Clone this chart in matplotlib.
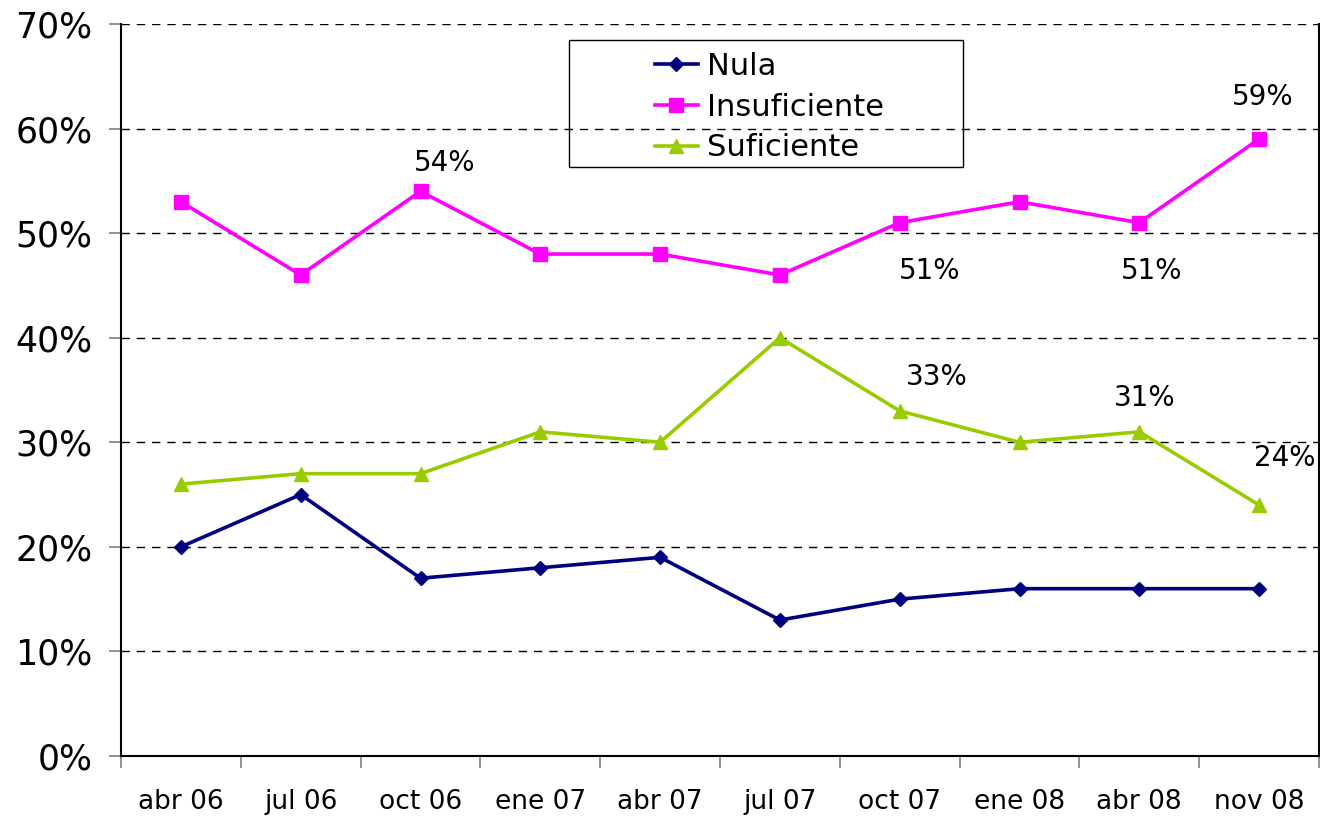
import matplotlib
matplotlib.use('Agg')
import matplotlib.pyplot as plt
from matplotlib.patches import Rectangle
from matplotlib.ticker import FixedLocator

periods = ["abr 06", "jul 06", "oct 06", "ene 07", "abr 07",
           "jul 07", "oct 07", "ene 08", "abr 08", "nov 08"]
nula = [20, 25, 17, 18, 19, 13, 15, 16, 16, 16]
insuficiente = [53, 46, 54, 48, 48, 46, 51, 53, 51, 59]
suficiente = [26, 27, 27, 31, 30, 40, 33, 30, 31, 24]

# which points get a data label: (index, offset in pixels)
labels_insuf = [(2, 24, 28), (6, 30, -48), (8, 12, -48), (9, 4, 42)]
labels_suf = [(6, 37, 34), (8, 5, 34), (9, 26, 47)]

fig = plt.figure(figsize=(13.2, 8.18), dpi=100)
ax = fig.add_axes([121 / 1320, 62 / 818, 1198 / 1320, 732 / 818])

x = list(range(len(periods)))
ax.plot(x, nula, color="#000080", lw=2.6, marker="D", ms=7.5, label="Nula")
ax.plot(x, insuficiente, color="#FF00FF", lw=2.6, marker="s", ms=9.5, label="Insuficiente")
ax.plot(x, suficiente, color="#99CC00", lw=2.6, marker="^", ms=10.5, label="Suficiente")

for i, dx, dy in labels_insuf:
    ax.annotate("{}%".format(insuficiente[i]), (i, insuficiente[i]), xytext=(dx, dy),
                textcoords="offset pixels", ha="center", va="center", fontsize=20)
for i, dx, dy in labels_suf:
    ax.annotate("{}%".format(suficiente[i]), (i, suficiente[i]), xytext=(dx, dy),
                textcoords="offset pixels", ha="center", va="center", fontsize=20)

ax.set_xlim(-0.5, len(periods) - 0.5)
ax.set_ylim(0, 70)
ax.set_yticks(range(0, 71, 10))
ax.set_yticklabels(["{}%".format(v) for v in range(0, 71, 10)], fontsize=25)
ax.set_xticks(x)
ax.set_xticklabels(periods, fontsize=19)
ax.xaxis.set_minor_locator(FixedLocator([i - 0.5 for i in range(len(periods) + 1)]))
ax.tick_params(axis="x", which="major", length=0, pad=24)
ax.tick_params(axis="x", which="minor", length=8.5, color="gray", width=1.2)
ax.tick_params(axis="y", length=8.5, color="gray", width=1.2, pad=12)

for v in range(10, 71, 10):
    ax.axhline(v, color="black", lw=1, ls=(0, (6, 5)), zorder=0)

ax.spines["top"].set_visible(False)
for s in ["left", "bottom", "right"]:
    ax.spines[s].set_color("black")
    ax.spines[s].set_linewidth(1.5)

fig.patches.append(Rectangle((569 / 1320, 1 - 167 / 818), 394 / 1320, 127 / 818,
                             fill=False, edgecolor="black", lw=1,
                             transform=fig.transFigure, figure=fig))
fig.legend(loc="upper left", bbox_to_anchor=(655 / 1320, 1 - 52 / 818),
           frameon=False, fontsize=22, borderpad=0, borderaxespad=0,
           handlelength=1.4, handletextpad=0.3, labelspacing=0.38)

fig.savefig("out.png", dpi=100)
plt.close()
